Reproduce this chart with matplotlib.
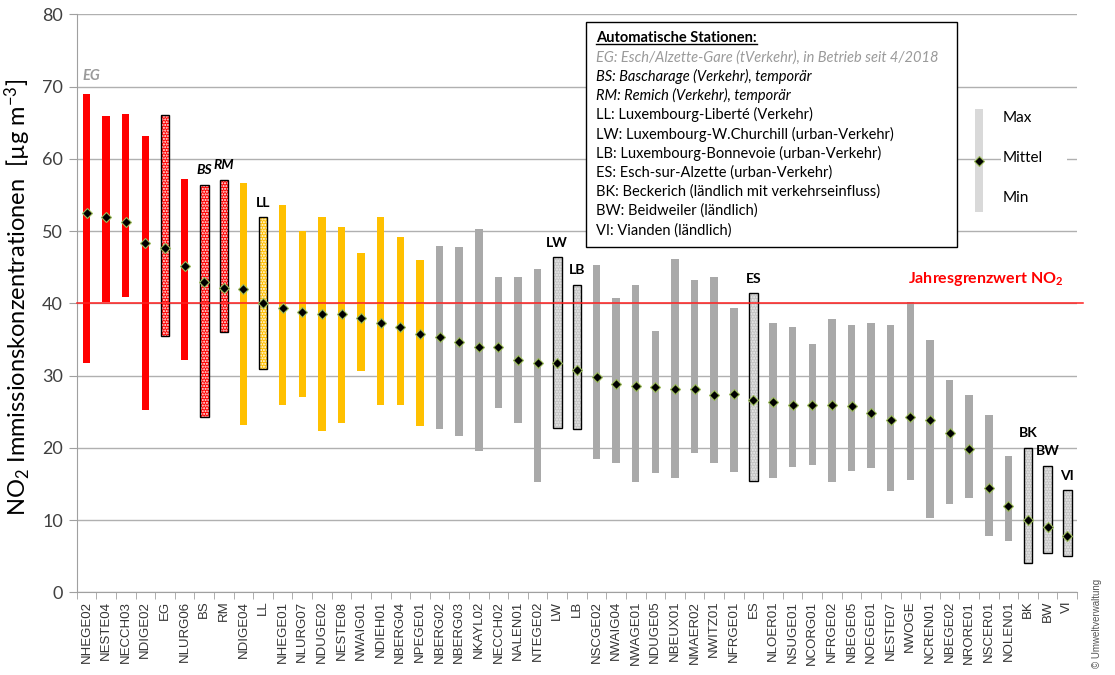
import numpy as np
import matplotlib
matplotlib.use("Agg")
import matplotlib.pyplot as plt
from matplotlib.patches import Rectangle
from matplotlib.lines import Line2D

plt.rcParams['font.family'] = ['Lato', 'DejaVu Sans']
plt.rcParams['mathtext.fontset'] = 'custom'
plt.rcParams['mathtext.rm'] = 'Lato'
plt.rcParams['mathtext.it'] = 'Lato:italic'
plt.rcParams['mathtext.bf'] = 'Lato:bold'
plt.rcParams['hatch.linewidth'] = 1.0

# NO2 Jahresmittel, Minimum und Maximum je Messstelle
stations = ["NHEGE02", "NESTE04", "NECCH03", "NDIGE02", "EG", "NLURG06", "BS", "RM",
            "NDIGE04", "LL", "NHEGE01", "NLURG07", "NDUGE02", "NESTE08", "NWAIG01",
            "NDIEH01", "NBERG04", "NPEGE01", "NBERG02", "NBERG03", "NKAYL02", "NECCH02",
            "NALEN01", "NTEGE02", "LW", "LB", "NSCGE02", "NWAIG04", "NWAGE01", "NDUGE05",
            "NBEUX01", "NMAER02", "NWITZ01", "NFRGE01", "ES", "NLOER01", "NSUGE01",
            "NCORG01", "NFRGE02", "NBEGE05", "NOEGE01", "NESTE07", "NWOGE", "NCREN01",
            "NBEGE02", "NRORE01", "NSCER01", "NOLEN01", "BK", "BW", "VI"]

vmax = [69.0, 65.9, 66.2, 63.2, 66.0, 57.2, 56.4, 57.1, 56.7, 51.9,
        53.6, 50.0, 52.0, 50.6, 47.0, 51.9, 49.2, 46.0, 48.0, 47.8,
        50.3, 43.7, 43.7, 44.7, 46.4, 42.6, 45.3, 40.7, 42.6, 36.1,
        46.1, 43.2, 43.7, 39.4, 41.4, 37.3, 36.7, 34.3, 37.8, 37.0,
        37.3, 37.0, 40.2, 34.9, 29.4, 27.3, 24.5, 18.8, 20.0, 17.5, 14.1]

vmin = [31.8, 40.2, 40.9, 25.3, 35.5, 32.2, 24.3, 36.0, 23.1, 30.9,
        25.9, 27.0, 22.3, 23.5, 30.6, 25.9, 25.9, 23.0, 22.6, 21.7,
        19.5, 25.5, 23.4, 15.3, 22.8, 22.6, 18.4, 17.9, 15.3, 16.5,
        15.8, 19.3, 17.9, 16.7, 15.4, 15.8, 17.4, 17.6, 15.3, 16.8,
        17.2, 14.0, 15.6, 10.3, 12.2, 13.1, 7.8, 7.1, 4.1, 5.4, 5.0]

vmean = [52.5, 51.9, 51.3, 48.4, 47.6, 45.1, 43.0, 42.1, 42.0, 40.0,
         39.3, 38.8, 38.5, 38.5, 38.0, 37.3, 36.7, 35.7, 35.4, 34.7,
         34.0, 34.0, 32.1, 31.8, 31.7, 30.8, 29.8, 28.9, 28.6, 28.4,
         28.1, 28.1, 27.3, 27.4, 26.6, 26.4, 25.9, 25.9, 25.9, 25.8,
         24.8, 23.8, 24.3, 23.8, 22.1, 19.9, 14.5, 12.0, 10.0, 9.1, 7.8]

# Klasse: Mittel > 40 (rot), 35-40 (gelb), < 35 (grau)
n_red, n_yellow = 8, 10
automatic = ["EG", "BS", "RM", "LL", "LW", "LB", "ES", "BK", "BW", "VI"]
italic_labels = ["BS", "RM"]

legend_lines = [
    ("EG: Esch/Alzette-Gare (tVerkehr), in Betrieb seit 4/2018", "italic", "#9a9a9a"),
    ("BS: Bascharage (Verkehr), temporär", "italic", "black"),
    ("RM: Remich (Verkehr), temporär", "italic", "black"),
    ("LL: Luxembourg-Liberté (Verkehr)", "normal", "black"),
    ("LW: Luxembourg-W.Churchill (urban-Verkehr)", "normal", "black"),
    ("LB: Luxembourg-Bonnevoie (urban-Verkehr)", "normal", "black"),
    ("ES: Esch-sur-Alzette (urban-Verkehr)", "normal", "black"),
    ("BK: Beckerich (ländlich mit verkehrseinfluss)", "normal", "black"),
    ("BW: Beidweiler (ländlich)", "normal", "black"),
    ("VI: Vianden (ländlich)", "normal", "black"),
]

RED = "#ff0000"
YELLOW = "#ffc000"
GREY = "#a9a9a9"

fig = plt.figure(figsize=(11.15, 6.75), dpi=100)
ax = fig.add_axes([0.0688, 0.1225, 0.8972, 0.8563])

x = np.arange(len(stations))
vmax = np.array(vmax)
vmin = np.array(vmin)

for i, name in enumerate(stations):
    if i < n_red:
        col = RED
    elif i < n_red + n_yellow:
        col = YELLOW
    else:
        col = GREY
    h = vmax[i] - vmin[i]
    if name in automatic:
        if col == GREY:
            face, dots = "#c4c4c4", "#ececec"
        else:
            face, dots = col, "white"
        ax.bar(i, h, bottom=vmin[i], width=0.44, color=face, edgecolor=dots,
               hatch="......", linewidth=0, zorder=3)
        ax.bar(i, h, bottom=vmin[i], width=0.44, fill=False, edgecolor="black",
               linewidth=1.0, zorder=3)
        style = "italic" if name in italic_labels else "normal"
        if name == "EG":
            ax.text(0.25, 71.4, name, ha="center", va="center", fontsize=10.5,
                    fontweight="bold", fontstyle="italic", color="#9a9a9a")
        else:
            ax.text(i, vmax[i] + 2.0, name, ha="center", va="center", fontsize=10,
                    fontweight="bold", fontstyle=style, color="black", zorder=4)
    else:
        ax.bar(i, h, bottom=vmin[i], width=0.38, color=col, linewidth=0, zorder=3)

ax.plot(x, vmean, linestyle="none", marker="D", markersize=5.5,
        markerfacecolor="black", markeredgecolor="#9bbb59", markeredgewidth=0.8,
        zorder=5)

# Grenzwert
ax.axhline(40, xmin=0, xmax=1.006, color="#ff2020", linewidth=1.1, zorder=4,
           clip_on=False)
ax.text(49.8, 43.4, "Jahresgrenzwert NO$_\\mathbf{2}$", ha="right", va="center",
        fontsize=11.5, fontweight="bold", color="#ff0000")

ax.set_xlim(-0.5, len(stations) - 0.5)
ax.set_ylim(0, 80)
ax.set_yticks(np.arange(0, 81, 10))
ax.yaxis.grid(True, color="#b0b0b0", linewidth=1.0, zorder=0)
ax.set_axisbelow(True)

ax.set_xticks(x)
ax.set_xticklabels(stations, rotation=90, fontsize=9.5, color="#333333",
                   family="Liberation Sans")
ax.set_xticks(np.arange(-0.5, len(stations), 1), minor=True)
ax.tick_params(axis="x", which="major", length=0, pad=6)
ax.tick_params(axis="x", which="minor", length=5, color="#a0a0a0")
ax.tick_params(axis="y", length=6, color="#a0a0a0", labelsize=13,
               labelcolor="#404040", pad=4)

for side in ["top", "right"]:
    ax.spines[side].set_visible(False)
for side in ["left", "bottom"]:
    ax.spines[side].set_color("#a0a0a0")

ax.set_ylabel("NO$_2$ Immissionskonzentrationen  [µg m$^{-3}$]", fontsize=17)
ax.yaxis.set_label_coords(-0.044, 0.51)

# Legende der automatischen Stationen
box = Rectangle((0.509, 0.597), 0.371, 0.3896, transform=ax.transAxes,
                facecolor="white", edgecolor="black", linewidth=1.0, zorder=6)
ax.add_patch(box)
title = ax.text(0.5195, (592.3 - 38) / 578, "Automatische Stationen:",
                transform=ax.transAxes, ha="left", va="center", fontsize=10.5,
                fontweight="bold", zorder=7)
for k, (line, style, colour) in enumerate(legend_lines):
    ypix = 57.3 + k * 19.2
    ax.text(0.5195, (592.3 - ypix) / 578, line, transform=ax.transAxes,
            ha="left", va="center", fontsize=10.5, fontstyle=style, color=colour,
            zorder=7)

# Erklaerung Max / Mittel / Min
ax.add_patch(Rectangle((46.6, 53.0), 3.4, 14.0, facecolor="white",
                       edgecolor="none", zorder=1))
ax.bar(45.5, 66.9 - 52.6, bottom=52.6, width=0.38, color="#d9d9d9",
       linewidth=0, zorder=3)
ax.plot([45.5], [59.7], linestyle="none", marker="D", markersize=5.5,
        markerfacecolor="black", markeredgecolor="#9bbb59", markeredgewidth=0.8,
        zorder=5)
for label, yv in [("Max", 65.6), ("Mittel", 60.1), ("Min", 54.6)]:
    ax.text(46.7, yv, label, ha="left", va="center", fontsize=11, zorder=4)

fig.text(0.984, 0.01, "© Umweltverwaltung", rotation=90, ha="center",
         va="bottom", fontsize=7, color="#555555", family="Liberation Sans")

# Unterstreichung des Legendentitels
fig.canvas.draw()
bb = title.get_window_extent().transformed(fig.transFigure.inverted())
fig.add_artist(Line2D([bb.x0, bb.x1], [bb.y0 + 0.001, bb.y0 + 0.001],
                      color="black", linewidth=1.0, zorder=8))

fig.savefig("out.png", dpi=100)
